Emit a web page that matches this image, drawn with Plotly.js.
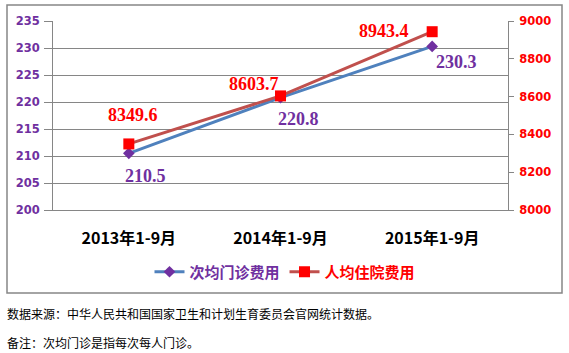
<!DOCTYPE html>
<html><head><meta charset="utf-8">
<script src="https://cdn.plot.ly/plotly-3.0.1.min.js"></script>
<style>html,body{margin:0;padding:0;background:#fff;}#chart{width:569px;height:353px;}</style>
</head><body><div id="chart"></div>
<script>
// ---- data ----
const categories = ['2013年1-9月', '2014年1-9月', '2015年1-9月'];
const outpatient = [210.5, 220.8, 230.3];      // 次均门诊费用 (left axis)
const inpatient = [8349.6, 8603.7, 8943.4];    // 人均住院费用 (right axis)
const seriesNames = ['次均门诊费用', '人均住院费用'];
const notes = ['数据来源：中华人民共和国国家卫生和计划生育委员会官网统计数据。', '备注：次均门诊是指每次每人门诊。'];

// ---- styling ----
const purple = '#7030A0', red = '#FF0000', blueLine = '#4F81BD', redLine = '#C0504D', grid = '#868686';
const outOffsets = [[17, -23], [18, -21], [24, -16]];
const inOffsets = [[4, 29], [-27, 12], [-48, 1]];
const L = 53, R = 508, T = 21, B = 210, W = 569, H = 353;
const px = x => (x - L) / (R - L);
const py = y => (B - y) / (B - T);

const traces = [
  {x: categories, y: outpatient, name: '<span style="color:' + purple + '">' + seriesNames[0] + '</span>', type: 'scatter', mode: 'lines+markers',
   line: {color: blueLine, width: 3}, marker: {symbol: 'diamond', size: 9, color: purple}, yaxis: 'y'},
  {x: categories, y: inpatient, name: '<span style="color:' + red + '">' + seriesNames[1] + '</span>', type: 'scatter', mode: 'lines+markers',
   line: {color: redLine, width: 3}, marker: {symbol: 'square', size: 11, color: red}, yaxis: 'y2'}
];

const annotations = [];
categories.forEach((c, i) => {
  annotations.push({x: c, y: outpatient[i], xref: 'x', yref: 'y', text: outpatient[i].toFixed(1), showarrow: false,
    xshift: outOffsets[i][0], yshift: outOffsets[i][1],
    font: {family: 'Liberation Serif, Times New Roman, serif', size: 18, color: purple, weight: 'bold'}});
  annotations.push({x: c, y: inpatient[i], xref: 'x', yref: 'y2', text: inpatient[i].toFixed(1), showarrow: false,
    xshift: inOffsets[i][0], yshift: inOffsets[i][1],
    font: {family: 'Liberation Serif, Times New Roman, serif', size: 18, color: red, weight: 'bold'}});
});
notes.forEach((t, i) => {
  annotations.push({x: px(5), y: py(i === 0 ? 313 : 342), xref: 'paper', yref: 'paper', xanchor: 'left', yanchor: 'middle',
    text: t, showarrow: false, font: {family: 'Noto Sans CJK SC, sans-serif', size: 12, color: '#000'}});
});

const layout = {
  width: W, height: H,
  margin: {l: L, r: W - R, t: T, b: H - B, pad: 0},
  paper_bgcolor: '#fff', plot_bgcolor: '#fff',
  showlegend: true,
  legend: {orientation: 'h', x: px(285), xanchor: 'center', y: py(272), yanchor: 'middle',
    font: {family: 'Noto Sans CJK SC, sans-serif', size: 15, weight: 'bold'}, itemwidth: 30, tracegroupgap: 0},
  xaxis: {type: 'category', range: [-0.5, 2.5], showgrid: false, zeroline: false, showline: true, linecolor: grid, linewidth: 1,
    ticks: '', ticklabelstandoff: 14,
    tickfont: {family: 'Noto Sans CJK SC, sans-serif', size: 16, color: '#000', weight: 'bold'}},
  yaxis: {range: [200, 235], dtick: 5, showgrid: true, gridcolor: grid, gridwidth: 1, zeroline: false,
    showline: true, linecolor: grid, linewidth: 1, ticks: 'outside', ticklen: 8, tickcolor: grid, ticklabelstandoff: 2,
    tickfont: {family: 'DejaVu Sans, Verdana, sans-serif', size: 11.5, color: purple, weight: 'bold'}},
  yaxis2: {range: [8000, 9000], dtick: 200, overlaying: 'y', side: 'right', showgrid: false, zeroline: false,
    showline: true, linecolor: grid, linewidth: 1, ticks: 'outside', ticklen: 5, tickcolor: grid, ticklabelstandoff: 3,
    tickfont: {family: 'DejaVu Sans, Verdana, sans-serif', size: 11.5, color: red, weight: 'bold'}},
  shapes: [{type: 'rect', xref: 'paper', yref: 'paper', x0: px(7), x1: px(562), y0: py(293), y1: py(5),
    line: {color: grid, width: 1.5}, fillcolor: 'rgba(0,0,0,0)', layer: 'below'}],
  annotations: annotations
};

Plotly.newPlot('chart', traces, layout, {displayModeBar: false, staticPlot: true});
</script></body></html>
